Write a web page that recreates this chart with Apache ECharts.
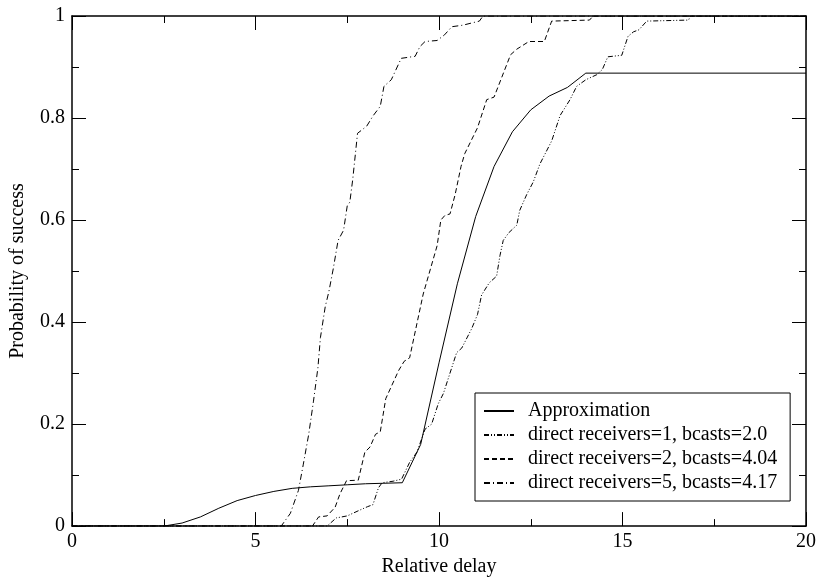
<!DOCTYPE html>
<html>
<head>
<meta charset="utf-8">
<script src="https://cdn.jsdelivr.net/npm/echarts@6/dist/echarts.min.js"></script>
<style>
  html, body { margin: 0; padding: 0; background: #fff; }
  #chart { width: 821px; height: 582px; }
</style>
</head>
<body>
<div id="chart"></div>
<script>
const xTicks = [0, 5, 10, 15, 20];
const yTicks = [0, 0.2, 0.4, 0.6, 0.8, 1];
const seriesNames = [
  "Approximation",
  "direct receivers=1, bcasts=2.0",
  "direct receivers=2, bcasts=4.04",
  "direct receivers=5, bcasts=4.17",
];

const approxData = [
  [0, 0], [2.5, 0], [3, 0.006], [3.5, 0.018], [4, 0.035], [4.5, 0.05], [5, 0.06],
  [5.5, 0.068], [6, 0.074], [6.5, 0.077], [7, 0.079], [7.5, 0.081], [8, 0.083],
  [8.5, 0.084], [9, 0.085], [9.5, 0.16], [10, 0.32], [10.5, 0.475], [11, 0.607],
  [11.5, 0.705], [12, 0.773], [12.5, 0.816], [13, 0.843], [13.5, 0.86], [14, 0.888],
  [20, 0.888],
];

const recv1Data = [
  [0, 0], [6.95, 0], [7.2, 0.016], [7.5, 0.02], [7.8, 0.03], [8.05, 0.038], [8.2, 0.042],
  [8.35, 0.075], [8.45, 0.085], [8.75, 0.088], [8.98, 0.092], [9.2, 0.125], [9.4, 0.145],
  [9.62, 0.19], [9.8, 0.2], [9.98, 0.24], [10.12, 0.26], [10.3, 0.3], [10.48, 0.34],
  [10.62, 0.349], [10.89, 0.387], [11.05, 0.415], [11.16, 0.453], [11.37, 0.477],
  [11.57, 0.49], [11.66, 0.53], [11.75, 0.56], [11.9, 0.575], [12.12, 0.59], [12.2, 0.619],
  [12.39, 0.65], [12.57, 0.675], [12.75, 0.71], [13.07, 0.755], [13.3, 0.805],
  [13.57, 0.836], [13.75, 0.862], [14.0, 0.875], [14.3, 0.885], [14.45, 0.895],
  [14.6, 0.92], [14.98, 0.923], [15.15, 0.96], [15.3, 0.969], [15.45, 0.973],
  [15.66, 0.99], [16.8, 0.992], [16.85, 1], [20, 1],
];

const recv2Data = [
  [0, 0], [6.55, 0], [6.72, 0.018], [6.95, 0.02], [7.17, 0.037], [7.3, 0.063], [7.48, 0.089],
  [7.8, 0.09], [7.98, 0.145], [8.12, 0.155], [8.27, 0.18], [8.4, 0.185], [8.55, 0.25],
  [8.9, 0.305], [9.05, 0.323], [9.2, 0.33], [9.57, 0.455], [9.95, 0.55], [10.05, 0.6],
  [10.16, 0.609], [10.3, 0.612], [10.44, 0.65], [10.6, 0.705], [10.7, 0.73],
  [11.05, 0.781], [11.3, 0.836], [11.5, 0.841], [11.95, 0.924], [12.12, 0.935],
  [12.45, 0.95], [12.87, 0.95], [13.07, 0.99], [14.1, 0.992], [14.2, 1], [20, 1],
];

const recv5Data = [
  [0, 0], [5.7, 0], [5.95, 0.025], [6.17, 0.07], [6.3, 0.12], [6.45, 0.18], [6.58, 0.245],
  [6.7, 0.31], [6.77, 0.37], [6.9, 0.43], [7.0, 0.46], [7.12, 0.505], [7.25, 0.56],
  [7.4, 0.58], [7.5, 0.628], [7.57, 0.635], [7.65, 0.68], [7.78, 0.77], [8.03, 0.784],
  [8.2, 0.804], [8.4, 0.823], [8.5, 0.862], [8.7, 0.875], [8.97, 0.917], [9.35, 0.921],
  [9.48, 0.94], [9.62, 0.95], [9.95, 0.952], [10.15, 0.963], [10.35, 0.979],
  [10.65, 0.982], [11.1, 0.99], [11.2, 1], [20, 1],
];

const font = "'Liberation Serif', 'DejaVu Serif', serif";
const chart = echarts.init(document.getElementById("chart"), null, { renderer: "canvas" });

function axisBase(show) {
  return {
    type: "value",
    axisLine: { show: true, onZero: false, lineStyle: { color: "#000", width: 1.5 } },
    axisTick: { show: true, inside: true, length: 14, lineStyle: { color: "#000", width: 1 } },
    minorTick: { show: true, splitNumber: 2, length: 7, lineStyle: { color: "#000", width: 1 } },
    splitLine: { show: false },
    axisLabel: { show: show, color: "#000", fontFamily: font, fontSize: 20 },
  };
}

function lineSeries(name, data, type) {
  return {
    name: name,
    type: "line",
    data: data,
    symbol: "none",
    color: "#000",
    animation: false,
    lineStyle: { color: "#000", width: 1, type: type },
  };
}

chart.setOption({
  backgroundColor: "#fff",
  animation: false,
  color: ["#000"],
  grid: { left: 72, right: 15, top: 16, bottom: 53 },
  xAxis: [
    Object.assign(axisBase(true), {
      min: xTicks[0], max: xTicks[xTicks.length - 1], interval: 5, position: "bottom",
      name: "Relative delay", nameLocation: "middle", nameGap: 29,
      nameTextStyle: { color: "#000", fontFamily: font, fontSize: 20 },
      axisLabel: { color: "#000", fontFamily: font, fontSize: 20, margin: 6 },
    }),
    Object.assign(axisBase(false), {
      min: xTicks[0], max: xTicks[xTicks.length - 1], interval: 5, position: "top",
    }),
  ],
  yAxis: [
    Object.assign(axisBase(true), {
      min: yTicks[0], max: yTicks[yTicks.length - 1], interval: 0.2, position: "left",
      name: "Probability of success", nameLocation: "middle", nameGap: 44,
      nameTextStyle: { color: "#000", fontFamily: font, fontSize: 20 },
      axisLabel: { color: "#000", fontFamily: font, fontSize: 20, margin: 7 },
    }),
    Object.assign(axisBase(false), {
      min: yTicks[0], max: yTicks[yTicks.length - 1], interval: 0.2, position: "right",
    }),
  ],
  legend: {
    orient: "vertical",
    left: 475,
    top: 393,
    backgroundColor: "#fff",
    borderColor: "#000",
    borderWidth: 1,
    borderRadius: 0,
    padding: [8, 13, 8, 8],
    itemWidth: 30,
    itemHeight: 10,
    itemGap: 4,
    itemStyle: { opacity: 0 },
    data: seriesNames,
    textStyle: { color: "#000", fontFamily: font, fontSize: 20, lineHeight: 20, padding: [0, 0, 0, 9] },
  },
  series: [
    lineSeries(seriesNames[0], approxData, "solid"),
    lineSeries(seriesNames[1], recv1Data, [5, 2, 1, 2, 1, 2]),
    lineSeries(seriesNames[2], recv2Data, [5, 3]),
    lineSeries(seriesNames[3], recv5Data, [6, 3, 1, 3]),
  ],
});
</script>
</body>
</html>
